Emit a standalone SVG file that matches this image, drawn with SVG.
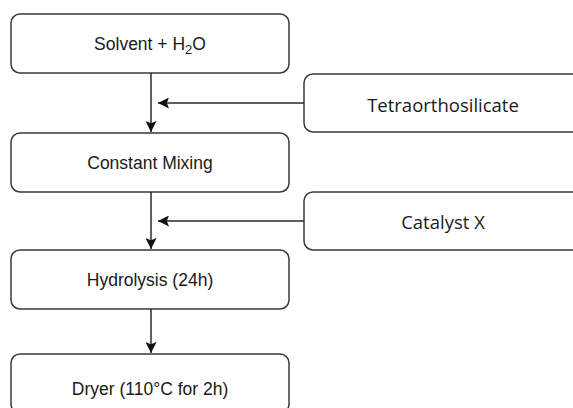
<svg xmlns="http://www.w3.org/2000/svg" width="573" height="408" viewBox="0 0 573 408">
<style>
.box{fill:#fff;stroke:#3a3a3a;stroke-width:1.5}
.lt{font-family:"Liberation Sans",Arial,sans-serif;font-size:17.5px;fill:#1a1a1a;text-anchor:middle}
.rt{font-family:"Open Sans","Noto Sans",sans-serif;font-size:18.5px;fill:#1a1a1a;text-anchor:middle}
.ln{stroke:#2a2a2a;stroke-width:1.5;fill:none}
</style>
<defs>
<marker id="ah" viewBox="0 0 10 10" refX="10" refY="5" markerWidth="11" markerHeight="11" markerUnits="userSpaceOnUse" orient="auto">
<path d="M0,0 L10,5 L0,10 L2,5 Z" fill="#111"/>
</marker>
</defs>
<rect width="573" height="408" fill="#fff"/>
<g id="n1"><rect class="box" x="11" y="14" width="278" height="59" rx="9"/><text class="lt" x="150" y="50">Solvent + H<tspan font-size="13" dy="4">2</tspan><tspan dy="-4">O</tspan></text></g>
<g id="n2"><rect class="box" x="304" y="74" width="290" height="58" rx="9"/><text class="rt" x="443" y="112">Tetraorthosilicate</text></g>
<g id="n3"><rect class="box" x="11" y="133" width="278" height="59" rx="9"/><text class="lt" x="150" y="168.5">Constant Mixing</text></g>
<g id="n4"><rect class="box" x="304" y="192" width="290" height="58" rx="9"/><text class="rt" x="443" y="229">Catalyst X</text></g>
<g id="n5"><rect class="box" x="11" y="250" width="278" height="59" rx="9"/><text class="lt" x="150" y="286">Hydrolysis (24h)</text></g>
<g id="n6"><rect class="box" x="11" y="354" width="278" height="59" rx="9"/><text class="lt" x="150" y="395">Dryer (110°C for 2h)</text></g>
<g id="connectors">
<line class="ln" x1="151" y1="73" x2="151" y2="132" marker-end="url(#ah)"/>
<line class="ln" x1="304" y1="103" x2="158" y2="103" marker-end="url(#ah)"/>
<line class="ln" x1="151" y1="192" x2="151" y2="249" marker-end="url(#ah)"/>
<line class="ln" x1="304" y1="221" x2="158" y2="221" marker-end="url(#ah)"/>
<line class="ln" x1="151" y1="309" x2="151" y2="353" marker-end="url(#ah)"/>
</g>
</svg>
